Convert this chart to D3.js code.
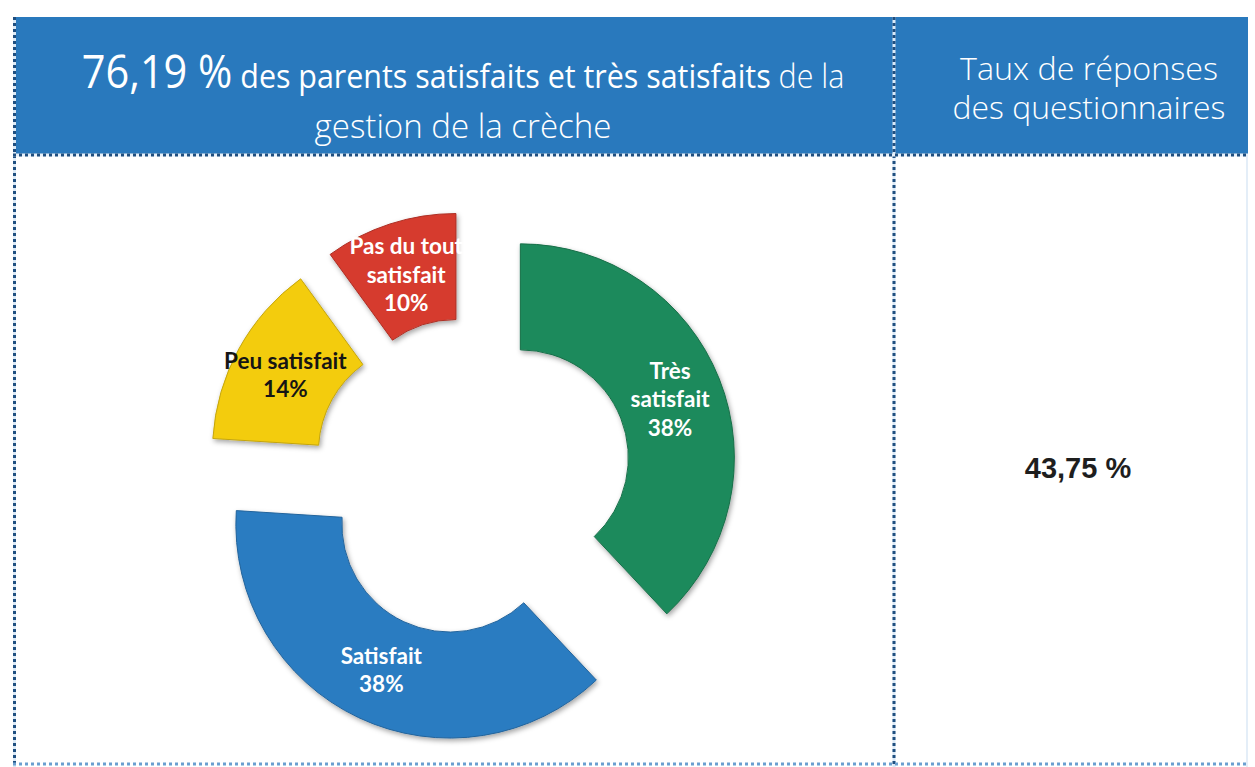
<!DOCTYPE html>
<html>
<head>
<meta charset="utf-8">
<script src="https://cdn.jsdelivr.net/npm/d3@7"></script>
<style>
  body { margin: 0; background: #fff; }
  svg { display: block; }
</style>
</head>
<body>
<div id="chart"></div>
<script>
// --- data ---
var categories = ['Très satisfait', 'Satisfait', 'Peu satisfait', 'Pas du tout satisfait']
var values = [38, 38, 14, 10]
var labelNames = [['Très', 'satisfait'], ['Satisfait'], ['Peu satisfait'], ['Pas du tout', 'satisfait']]
var colors = ['#1e8a5b', '#2b7cc1', '#f3cc0d', '#d63b2e']
var labelColors = ['#fff', '#fff', '#151515', '#fff']

var titleParts = ['76,19 %', ' des parents satisfaits et très satisfaits', ' de la']
var titleLine2 = 'gestion de la crèche'
var rightTitle = ['Taux de réponses', 'des questionnaires']
var responseRate = '43,75 %'

var W = 1255, H = 767
var svg = d3.select('#chart').append('svg').attr('width', W).attr('height', H)

var blue = '#2979bd', navy = '#1f4f80'
var tblLeft = 13, tblRight = 1248, tblTop = 17, headBottom = 155, divider = 894, tblBottom = 764

// header band
svg.append('rect').attr('x', tblLeft).attr('y', tblTop)
  .attr('width', tblRight - tblLeft).attr('height', headBottom - tblTop).attr('fill', blue)

// dotted table borders
function dotted(x1, y1, x2, y2, color, back){
  if (back) svg.append('line').attr('x1', x1).attr('y1', y1).attr('x2', x2).attr('y2', y2)
    .attr('stroke', back).attr('stroke-width', 3)
  svg.append('line').attr('x1', x1).attr('y1', y1).attr('x2', x2).attr('y2', y2)
    .attr('stroke', color).attr('stroke-width', 3).attr('stroke-dasharray', '3,3')
}
dotted(tblLeft + 1.5, tblTop, tblLeft + 1.5, H, navy, '#dceaf7')
dotted(divider, tblTop, divider, H, navy, '#dceaf7')
dotted(tblLeft, headBottom, tblRight, headBottom, navy, '#e8f1fa')
dotted(tblLeft, tblBottom, tblRight, tblBottom, '#6a9fd0')
svg.append('line').attr('x1', tblRight - 1).attr('y1', headBottom).attr('x2', tblRight - 1).attr('y2', H)
  .attr('stroke', '#e4eef8').attr('stroke-width', 2)

// fit a text line to a measured width by horizontal scaling
function fit(sel, cx, y, width){
  var w = sel.node().getComputedTextLength()
  sel.attr('transform', 'translate(' + cx + ',' + y + ') scale(' + (width / w) + ',1)')
}

var t1 = svg.append('text').attr('text-anchor', 'middle').attr('fill', '#fff')
  .style('font-family', '"Open Sans", sans-serif')
t1.append('tspan').text(titleParts[0]).style('font-size', '45px').style('font-weight', 400)
t1.append('tspan').text(titleParts[1]).style('font-size', '33px').style('font-weight', 400)
t1.append('tspan').text(titleParts[2]).style('font-size', '33px').style('font-weight', 300)
fit(t1, 463, 88, 763)

var t2 = svg.append('text').attr('text-anchor', 'middle').attr('fill', '#fff')
  .style('font-family', '"Open Sans", sans-serif').style('font-size', '33px').style('font-weight', 300)
  .text(titleLine2)
fit(t2, 463, 138, 297)

rightTitle.forEach(function(s, i){
  var t = svg.append('text').attr('text-anchor', 'middle').attr('fill', '#fff')
    .style('font-family', '"Open Sans", sans-serif').style('font-size', '31px').style('font-weight', 300)
    .text(s)
  fit(t, 1089, [80, 119][i], [258, 273][i])
})

svg.append('text').attr('x', 1078).attr('y', 478).attr('text-anchor', 'middle')
  .attr('fill', '#1e1e1e')
  .style('font-family', '"Liberation Sans", Arial, sans-serif').style('font-size', '29px').style('font-weight', 700)
  .text(responseRate)

// --- exploded donut ---
var defs = svg.append('defs')
defs.append('filter').attr('id', 'shadow').attr('x', '-20%').attr('y', '-20%').attr('width', '140%').attr('height', '140%')
  .append('feDropShadow').attr('dx', 1.5).attr('dy', 2.5).attr('stdDeviation', 2.5)
  .attr('flood-color', '#000').attr('flood-opacity', 0.35)

var cx = 472, cy = 477, R = 214, r = 108, explode = 52

var pie = d3.pie().sort(null).startAngle(0).endAngle(2 * Math.PI)
var arc = d3.arc().innerRadius(r).outerRadius(R)
var arcs = pie(values)

var g = svg.append('g').attr('transform', 'translate(' + cx + ',' + cy + ')')

var slice = g.selectAll('g.slice').data(arcs).enter().append('g').attr('class', 'slice')
  .attr('transform', function(d){
    var a = (d.startAngle + d.endAngle) / 2
    return 'translate(' + (explode * Math.sin(a)) + ',' + (-explode * Math.cos(a)) + ')'
  })

slice.append('path').attr('d', arc)
  .attr('fill', function(d, i){ return colors[i] })
  .attr('stroke', function(d, i){ return d3.color(colors[i]).darker(0.6) })
  .attr('stroke-width', 1)
  .attr('filter', 'url(#shadow)')

slice.each(function(d, i){
  var c = arc.centroid(d)
  var lines = labelNames[i].concat([d.data + '%'])
  var lh = 28.5
  var t = d3.select(this).append('text').attr('text-anchor', 'middle')
    .attr('fill', labelColors[i])
    .style('font-family', 'Lato, "Open Sans", sans-serif').style('font-size', '22.5px').style('font-weight', 700)
  lines.forEach(function(s, k){
    t.append('tspan').attr('x', c[0]).attr('y', c[1] + (k - (lines.length - 1) / 2) * lh)
      .attr('dominant-baseline', 'central').text(s)
  })
})
</script>
</body>
</html>
